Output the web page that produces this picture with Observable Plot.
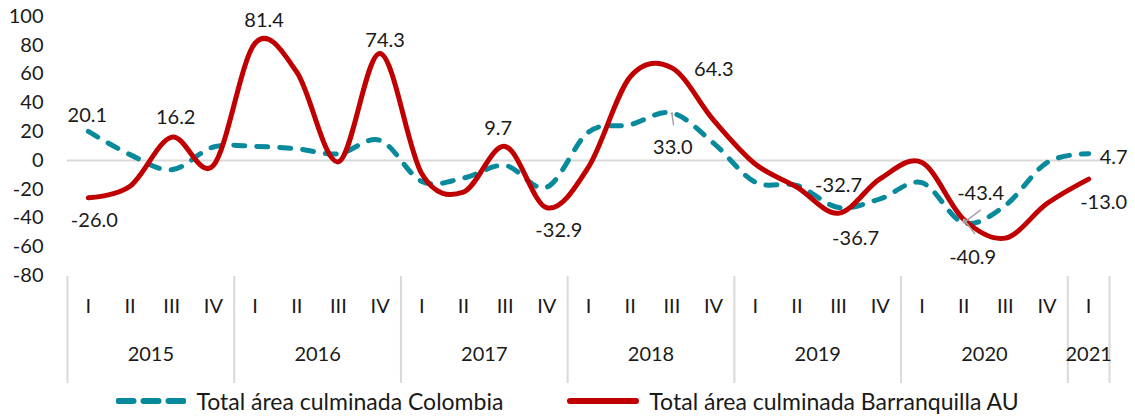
<!DOCTYPE html>
<html><head><meta charset="utf-8">
<script src="https://cdn.jsdelivr.net/npm/d3@7"></script>
<script src="https://cdn.jsdelivr.net/npm/@observablehq/plot@0.6"></script>
<style>
body{margin:0;background:#fff;font-family:Lato,sans-serif;}
#legend{display:flex;justify-content:center;align-items:center;height:32px;font-size:23px;color:#1a1a1a;gap:64px;}
.item{display:flex;align-items:center;gap:10px;}
.item svg{display:block;}
</style></head><body>
<div id="chart"></div>
<div id="legend"></div>
<script>
// ---- data ----
const periodYear = [2015,2015,2015,2015,2016,2016,2016,2016,2017,2017,2017,2017,2018,2018,2018,2018,2019,2019,2019,2019,2020,2020,2020,2020,2021];
const periodQuarter = ["I","II","III","IV","I","II","III","IV","I","II","III","IV","I","II","III","IV","I","II","III","IV","I","II","III","IV","I"];
const colombia = [20.1, 4.0, -6.5, 9.3, 9.7, 8.1, 4.6, 13.9, -14.6, -12.3, -3.5, -18.6, 19.7, 24.8, 33.0, 12.0, -15.1, -17.4, -32.7, -26.7, -15.5, -43.4, -31.3, -1.5, 4.7];
const barranquilla = [-26.0, -18.0, 16.2, -3.5, 81.4, 61.4, -1.0, 74.3, -9.3, -22.0, 9.7, -32.9, -4.6, 58.0, 64.3, 28.0, -2.5, -18.6, -36.7, -12.7, -1.5, -40.9, -54.0, -30.0, -13.0];
const yTicks = [-80, -60, -40, -20, 0, 20, 40, 60, 80, 100];
const seriesNames = ["Total área culminada Colombia", "Total área culminada Barranquilla AU"];
const labelledColombia = [0, 14, 18, 21, 24];
const labelledBarranquilla = [0, 2, 4, 7, 10, 11, 14, 18, 21, 24];

// ---- styles / placement ----
const teal = "#078a9c", red = "#c00000", grid = "#d9d9d9", ink = "#1a1a1a";
const offsets = {
  c0: [-1, -16], c14: [1, 35], c18: [0, -22], c21: [17, -29], c24: [25, 4],
  b0: [6, 23], b2: [4, -19], b4: [9, -23], b7: [5, -13], b10: [-7, -18], b11: [12, 23],
  b14: [42, 2], b18: [17, 25], b21: [9, 38], b24: [15, 23]
};
const leaders = [
  {key: "c", i: 14, length: 12, rotate: -8},
  {key: "c", i: 21, length: 21, rotate: -127},
  {key: "b", i: 21, length: 18, rotate: -38}
];

const idx = periodYear.map((_, i) => i);
const seriesOf = {c: colombia, b: barranquilla};
const labels = [
  ...labelledColombia.map(i => ({key: "c" + i, i, v: colombia[i]})),
  ...labelledBarranquilla.map(i => ({key: "b" + i, i, v: barranquilla[i]}))
];
const years = Array.from(new Set(periodYear));
const yearCenters = years.map(y => {
  const ii = idx.filter(i => periodYear[i] === y);
  return {year: y, x: d3.mean(ii)};
});
const bounds = [...years.map(y => idx.find(i => periodYear[i] === y) - 0.5), periodYear.length - 0.5];

const chart = Plot.plot({
  width: 1135, height: 385,
  marginTop: 16, marginBottom: 110, marginLeft: 67, marginRight: 26,
  style: {fontFamily: "Lato, sans-serif", fontSize: "20px", color: ink, background: "#fff", overflow: "visible"},
  x: {domain: [-0.5, periodYear.length - 0.5], axis: null},
  y: {domain: [-80, 100], ticks: yTicks, tickSize: 0, tickPadding: 24, label: null, tickFormat: d => String(d)},
  marks: [
    Plot.ruleY([0], {stroke: grid, strokeWidth: 2}),
    Plot.ruleX(bounds, {x: d => d, y1: -80, y2: -80, insetTop: 1, insetBottom: -108, stroke: grid, strokeWidth: 2}),
    Plot.text(idx, {x: i => i, text: i => periodQuarter[i], frameAnchor: "bottom", lineAnchor: "middle", dy: 31, fill: ink}),
    Plot.text(yearCenters, {x: "x", text: d => String(d.year), frameAnchor: "bottom", lineAnchor: "middle", dy: 79, fill: ink}),
    Plot.line(idx, {x: i => i, y: i => colombia[i], curve: "cardinal", stroke: teal, strokeWidth: 5, strokeDasharray: "11,12", strokeLinecap: "round"}),
    Plot.line(idx, {x: i => i, y: i => barranquilla[i], curve: "cardinal", stroke: red, strokeWidth: 5, strokeLinecap: "round"}),
    ...leaders.map(l => Plot.vector([{i: l.i, v: seriesOf[l.key][l.i]}], {x: "i", y: "v", length: l.length, rotate: l.rotate, anchor: "end", r: 1, stroke: "#a6a6a6", strokeWidth: 1.5})),
    ...labels.map(d => Plot.text([d], {x: "i", y: "v", text: e => e.v.toFixed(1), dx: offsets[d.key][0], dy: offsets[d.key][1], fill: ink}))
  ]
});
document.getElementById("chart").append(chart);

const legend = document.getElementById("legend");
legend.innerHTML = `
  <div class="item"><svg width="70" height="10"><line x1="2.5" x2="67.5" y1="5" y2="5" stroke="${teal}" stroke-width="6" stroke-dasharray="15,10" stroke-linecap="round"/></svg><span>${seriesNames[0]}</span></div>
  <div class="item"><svg width="72" height="10"><line x1="3" x2="69" y1="5" y2="5" stroke="${red}" stroke-width="6" stroke-linecap="round"/></svg><span>${seriesNames[1]}</span></div>`;
</script>
</body></html>
